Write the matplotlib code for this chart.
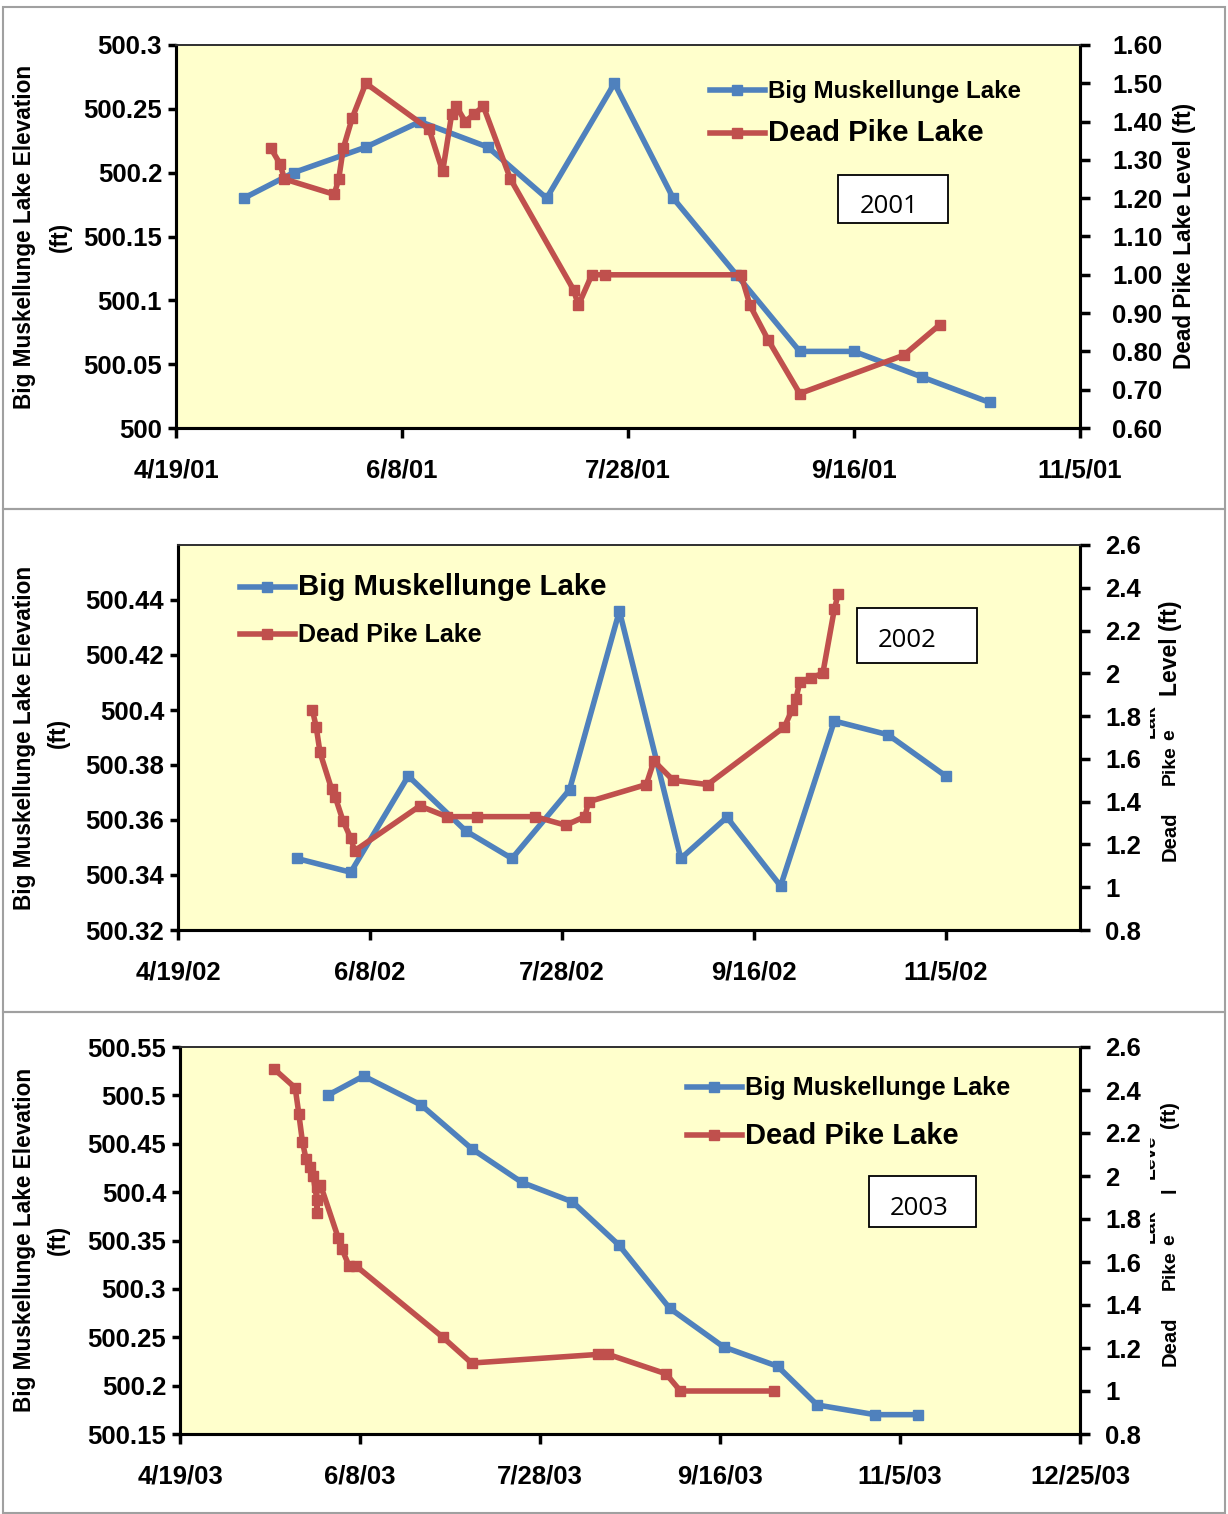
import numpy as np
import pandas as pd
import matplotlib
matplotlib.use('Agg')
import matplotlib.pyplot as plt
from matplotlib.patches import Rectangle
from matplotlib.transforms import Bbox, TransformedBbox

plt.rcParams['font.family'] = ['Liberation Sans', 'DejaVu Sans']
plt.rcParams['font.weight'] = 'bold'

# Datos (fecha m/d, valor)
bml_2001_fechas = ['5/4', '5/15', '5/31', '6/12', '6/27', '7/10', '7/25', '8/7', '8/21', '9/4',
                   '9/16', '10/1', '10/16']
bml_2001 = [500.18, 500.20, 500.22, 500.24, 500.22, 500.18, 500.27, 500.18, 500.12, 500.06,
            500.06, 500.04, 500.02]
dpl_2001_fechas = ['5/10', '5/12', '5/13', '5/24', '5/25', '5/26', '5/28', '5/31', '6/14', '6/17',
                   '6/19', '6/20', '6/22', '6/24', '6/26', '7/2', '7/16', '7/17', '7/20', '7/23',
                   '8/22', '8/24', '8/28', '9/4', '9/27', '10/5']
dpl_2001 = [1.33, 1.29, 1.25, 1.21, 1.25, 1.33, 1.41, 1.50, 1.38, 1.27,
            1.42, 1.44, 1.40, 1.42, 1.44, 1.25, 0.96, 0.92, 1.00, 1.00,
            1.00, 0.92, 0.83, 0.69, 0.79, 0.87]

bml_2002_fechas = ['5/20', '6/3', '6/18', '7/3', '7/15', '7/30', '8/12', '8/28', '9/9', '9/23',
                   '10/7', '10/21', '11/5']
bml_2002 = [500.346, 500.341, 500.376, 500.356, 500.346, 500.371, 500.436, 500.346, 500.361,
            500.336, 500.396, 500.391, 500.376]
dpl_2002_fechas = ['5/24', '5/25', '5/26', '5/29', '5/30', '6/1', '6/3', '6/4', '6/21', '6/28',
                   '7/6', '7/21', '7/29', '8/3', '8/4', '8/19', '8/21', '8/26', '9/4', '9/24',
                   '9/26', '9/27', '9/28', '10/1', '10/4', '10/7', '10/8']
dpl_2002 = [1.83, 1.75, 1.63, 1.46, 1.42, 1.31, 1.23, 1.17, 1.38, 1.33,
            1.33, 1.33, 1.29, 1.33, 1.40, 1.48, 1.59, 1.50, 1.48, 1.75,
            1.83, 1.88, 1.96, 1.98, 2.00, 2.30, 2.37]

bml_2003_fechas = ['5/30', '6/9', '6/25', '7/9', '7/23', '8/6', '8/19', '9/2', '9/17', '10/2',
                   '10/13', '10/29', '11/10']
bml_2003 = [500.50, 500.52, 500.49, 500.445, 500.41, 500.39, 500.345, 500.28, 500.24, 500.22,
            500.18, 500.17, 500.17]
dpl_2003_fechas = ['5/15', '5/21', '5/22', '5/23', '5/24', '5/25', '5/26', '5/27', '5/27', '5/27',
                   '5/28', '6/2', '6/3', '6/5', '6/7', '7/1', '7/9', '8/13', '8/16', '9/1',
                   '9/5', '10/1']
dpl_2003 = [2.50, 2.41, 2.29, 2.16, 2.08, 2.04, 2.00, 1.89, 1.83, 1.95,
            1.96, 1.71, 1.66, 1.58, 1.58, 1.25, 1.13, 1.17, 1.17, 1.08,
            1.00, 1.00]

# Ejes
izq_2001 = [500, 500.05, 500.1, 500.15, 500.2, 500.25, 500.3]
izq_2001_txt = ['500', '500.05', '500.1', '500.15', '500.2', '500.25', '500.3']
der_2001 = [0.6, 0.7, 0.8, 0.9, 1.0, 1.1, 1.2, 1.3, 1.4, 1.5, 1.6]
der_2001_txt = ['0.60', '0.70', '0.80', '0.90', '1.00', '1.10', '1.20', '1.30', '1.40', '1.50', '1.60']
izq_2002 = [500.32, 500.34, 500.36, 500.38, 500.40, 500.42, 500.44]
izq_2002_txt = ['500.32', '500.34', '500.36', '500.38', '500.4', '500.42', '500.44']
der_0203 = [0.8, 1.0, 1.2, 1.4, 1.6, 1.8, 2.0, 2.2, 2.4, 2.6]
der_0203_txt = ['0.8', '1', '1.2', '1.4', '1.6', '1.8', '2', '2.2', '2.4', '2.6']
izq_2003 = [500.15, 500.2, 500.25, 500.3, 500.35, 500.4, 500.45, 500.5, 500.55]
izq_2003_txt = ['500.15', '500.2', '500.25', '500.3', '500.35', '500.4', '500.45', '500.5', '500.55']

W, H = 1228, 1514
AZUL = '#4F81BD'
ROJO = '#C0504D'
FONDO = '#FFFFCC'
TAM_TICK = 18.5

fig = plt.figure(figsize=(W / 100, H / 100), dpi=100)


def fx(x):
    return x / W


def fy(y):
    return 1 - y / H


def fechas(lista, anio):
    return pd.to_datetime([f'{d}/{anio}' for d in lista], format='%m/%d/%Y')


def getPanel(caja, anio, x_fin, n_ticks, bml_f, bml, dpl_f, dpl,
             yl, yl_txt, ylim, yr, yr_txt, rlim, pad_der):
    l, t, r, b = caja
    ax = fig.add_axes([fx(l), fy(b), fx(r - l), (b - t) / H])
    ax.set_facecolor(FONDO)
    ax2 = ax.twinx()
    l1, = ax.plot(fechas(bml_f, anio), bml, color=AZUL, lw=4, marker='s', ms=7)
    l2, = ax2.plot(fechas(dpl_f, anio), dpl, color=ROJO, lw=4, marker='s', ms=7)
    inicio = pd.Timestamp(f'{anio}-04-19')
    ax.set_xlim(inicio, pd.Timestamp(x_fin))
    ticks = [inicio + pd.Timedelta(days=50 * k) for k in range(n_ticks)]
    ax.set_xticks(ticks)
    ax.set_xticklabels([f'{d.month}/{d.day}/{d.year % 100:02d}' for d in ticks])
    ax.set_ylim(*ylim)
    ax.set_yticks(yl)
    ax.set_yticklabels(yl_txt)
    ax2.set_ylim(*rlim)
    ax2.set_yticks(yr)
    ax2.set_yticklabels(yr_txt)
    for a in (ax, ax2):
        for s in ('left', 'right', 'bottom'):
            a.spines[s].set_linewidth(2.2)
            a.spines[s].set_color('black')
        a.spines['top'].set_linewidth(1.3)
        a.spines['top'].set_color('#333333')
    ax.tick_params(axis='y', direction='out', length=6, width=2.5, labelsize=TAM_TICK, pad=4)
    ax.tick_params(axis='x', direction='out', length=7, width=2.5, labelsize=TAM_TICK, pad=15)
    ax2.tick_params(axis='y', direction='out', length=7, width=2.5, labelsize=TAM_TICK, pad=pad_der)
    return ax, ax2, l1, l2


def leyenda(ax, l1, l2, x, y, tam1, tam2, sep, base):
    leg = ax.legend([l1, l2], ['Big Muskellunge Lake', 'Dead Pike Lake'],
                    loc='upper left', bbox_to_anchor=(fx(x), fy(y)),
                    bbox_transform=fig.transFigure, frameon=False,
                    borderpad=0, borderaxespad=0, fontsize=base,
                    handlelength=55 / (base * 1.389), handletextpad=0.12,
                    labelspacing=sep)
    leg.get_texts()[0].set_fontsize(tam1)
    leg.get_texts()[1].set_fontsize(tam2)
    leg.set_zorder(10)


def caja_anio(texto, l, t, r, b, cx, base_y):
    fig.add_artist(Rectangle((fx(l), fy(b)), fx(r - l), (b - t) / H, transform=fig.transFigure,
                             facecolor='white', edgecolor='black', lw=1.3, zorder=5))
    fig.text(fx(cx), fy(base_y), texto, ha='center', va='baseline', fontsize=18.5,
             family=['Open Sans', 'DejaVu Sans'], weight='normal', zorder=6)


def texto_v(x, y, s, tam, recorte=None):
    t = fig.text(fx(x), fy(y), s, rotation=90, ha='center', va='center', fontsize=tam)
    if recorte is not None:
        t.set_clip_box(TransformedBbox(Bbox.from_extents(fx(recorte), 0, 1, 1), fig.transFigure))
        t.set_clip_on(True)
    return t


# marcos grises
for t, b in [(7, 509), (509, 1012), (1012, 1513)]:
    fig.add_artist(Rectangle((fx(3), fy(b)), fx(1222), (b - t) / H, transform=fig.transFigure,
                             facecolor='none', edgecolor='#A0A0A0', lw=1.5))

# 2001
ax, ax2, l1, l2 = getPanel((176, 45, 1080, 428), 2001, '2001-11-05', 5,
                           bml_2001_fechas, bml_2001, dpl_2001_fechas, dpl_2001,
                           izq_2001, izq_2001_txt, (500, 500.3),
                           der_2001, der_2001_txt, (0.6, 1.6), 16)
leyenda(ax2, l1, l2, 710, 80, 17.4, 21.2, 0.72, 16)
caja_anio('2001', 838, 175, 948, 223, 889, 213)
texto_v(25, 237, 'Big Muskellunge Lake Elevation', 16.3)
texto_v(60, 237, '(ft)', 16.3)
texto_v(1184, 236, 'Dead Pike Lake Level (ft)', 16.3)

# 2002
ax, ax2, l1, l2 = getPanel((178, 545, 1080, 930), 2002, '2002-12-10', 5,
                           bml_2002_fechas, bml_2002, dpl_2002_fechas, dpl_2002,
                           izq_2002, izq_2002_txt, (500.32, 500.46),
                           der_0203, der_0203_txt, (0.8, 2.6), 11)
leyenda(ax2, l1, l2, 240, 573, 21.2, 18, 0.95, 17)
caja_anio('2002', 857, 608, 977, 663, 907, 647)
texto_v(25, 738, 'Big Muskellunge Lake Elevation', 16.3)
texto_v(58, 733, '(ft)', 16.3)
texto_v(1170, 648, 'Level (ft)', 16.5)
texto_v(1150, 721, 'Lak', 14, recorte=1150)
texto_v(1170, 735, 'e', 14)
texto_v(1170, 765, 'Pike', 14)
texto_v(1170, 836, 'Dead', 14.5)

# 2003
ax, ax2, l1, l2 = getPanel((180, 1047, 1080, 1434), 2003, '2003-12-25', 6,
                           bml_2003_fechas, bml_2003, dpl_2003_fechas, dpl_2003,
                           izq_2003, izq_2003_txt, (500.15, 500.55),
                           der_0203, der_0203_txt, (0.8, 2.6), 11)
leyenda(ax2, l1, l2, 687, 1076, 18.2, 21, 0.92, 17)
caja_anio('2003', 869, 1176, 976, 1227, 919, 1215)
texto_v(25, 1240, 'Big Muskellunge Lake Elevation', 16.3)
texto_v(58, 1240, '(ft)', 16.3)
texto_v(1170, 1115, '(ft)', 14.5)
texto_v(1150, 1157, 'Leve', 14, recorte=1150)
texto_v(1170, 1190, 'l', 14.5)
texto_v(1150, 1226, 'Lak', 14, recorte=1150)
texto_v(1170, 1240, 'e', 14)
texto_v(1170, 1270, 'Pike', 14)
texto_v(1170, 1341, 'Dead', 14.5)

plt.savefig('out.png', dpi=100)
plt.close()
